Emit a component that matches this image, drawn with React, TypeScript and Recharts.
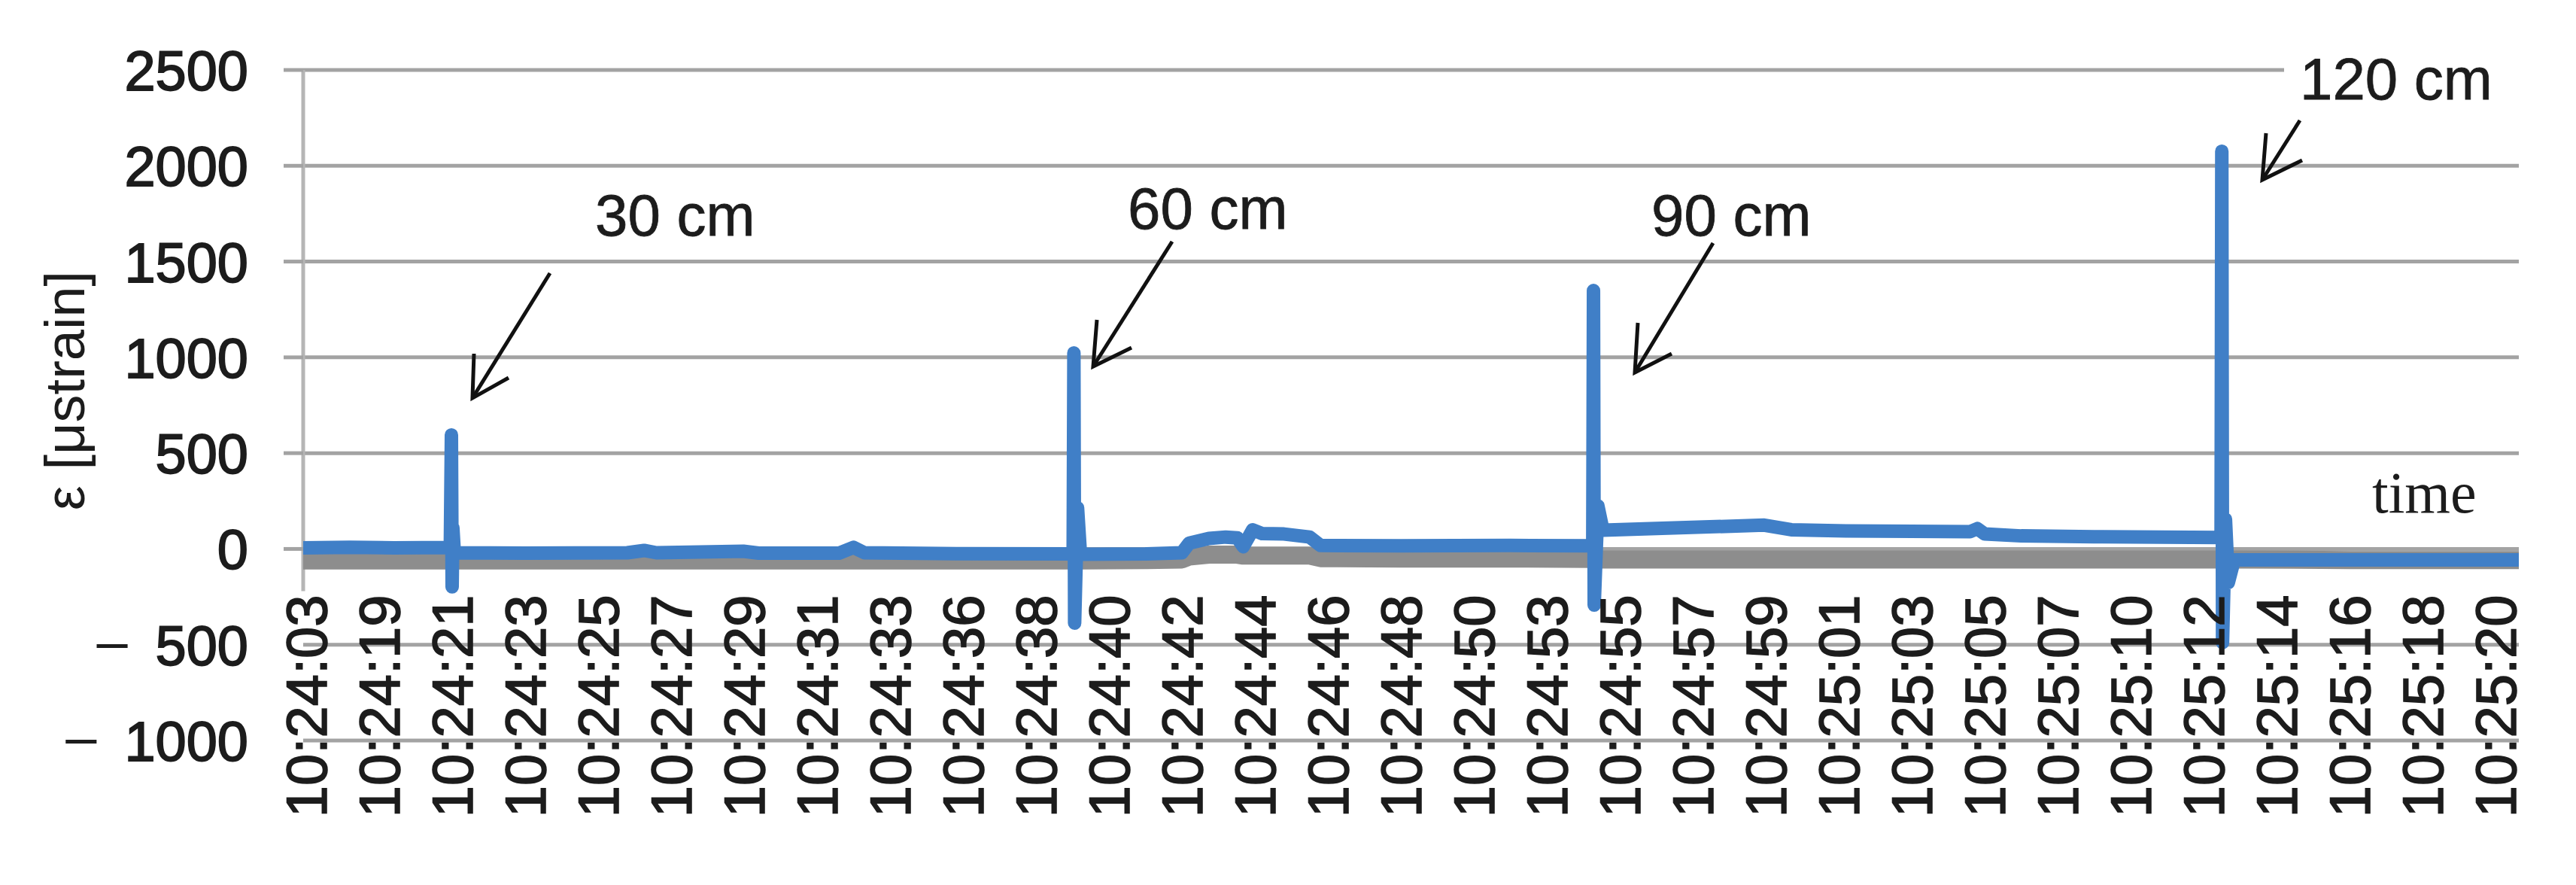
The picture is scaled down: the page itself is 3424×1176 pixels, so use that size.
import React from 'react';
import { LineChart, Line, XAxis, YAxis, CartesianGrid, ReferenceLine } from 'recharts';

// ---- Data ----
const timeLabels = [
  '10:24:03', '10:24:19', '10:24:21', '10:24:23', '10:24:25', '10:24:27', '10:24:29', '10:24:31',
  '10:24:33', '10:24:36', '10:24:38', '10:24:40', '10:24:42', '10:24:44', '10:24:46', '10:24:48',
  '10:24:50', '10:24:53', '10:24:55', '10:24:57', '10:24:59', '10:25:01', '10:25:03', '10:25:05',
  '10:25:07', '10:25:10', '10:25:12', '10:25:14', '10:25:16', '10:25:18', '10:25:20',
];

const yTicks = [-1000, -500, 0, 500, 1000, 1500, 2000, 2500];

// sample position, in units of the labelled time ticks (0 = 10:24:03 ... 30 = 10:25:20)
const sampleT = [
  -0.041, 0.6, 1.2, 1.975, 1.99, 2.0, 2.01, 2.03, 3.0, 4.4,
  4.63, 4.8, 5.99, 6.2, 7.3, 7.5, 7.65, 9.0, 10.51, 10.52,
  10.53, 10.57, 10.61, 11.5, 12.0, 12.1, 12.37, 12.6, 12.76, 12.84,
  12.97, 13.1, 13.4, 13.75, 13.9, 15.0, 16.5, 17.63, 17.64, 17.65,
  17.7, 17.77, 18.58, 19.98, 20.35, 21.1, 22.8, 22.9, 23.0, 23.5,
  24.5, 26.24, 26.25, 26.26, 26.3, 26.34, 26.42, 28.0, 30.32,
];

const strainBlue = [
  6, 9, 6, 8, 595, -198, 110, -20, -22, -20,
  -8, -20, -12, -22, -22, 8, -20, -25, -26, 1023,
  -387, 215, -28, -26, -20, 30, 55, 62, 58, 12,
  100, 80, 78, 62, 18, 16, 18, 16, 1349, -293,
  225, 98, 108, 124, 100, 94, 90, 106, 78, 68,
  64, 60, 2076, -489, 155, -175, -57, -57, -57,
];

const strainGray = [
  -60, -60, -60, -60, -60, -60, -60, -60, -60, -60,
  -60, -60, -60, -60, -60, -60, -60, -60, -60, -60,
  -60, -60, -60, -58, -55, -40, -30, -30, -30, -35,
  -35, -35, -35, -35, -48, -50, -50, -52, -55, -55,
  -55, -55, -55, -55, -55, -55, -55, -55, -55, -55,
  -55, -55, -55, -55, -55, -55, -55, -58, -58,
];

const chartData = sampleT.map((t, i) => ({ t, blue: strainBlue[i], gray: strainGray[i] }));

// ---- Layout ----
const W = 3424;
const H = 1176;
const PLOT_LEFT = 403;
const PLOT_RIGHT = 3348;
const PLOT_TOP = 93;
const PLOT_BOTTOM = 984;
const Y_MIN = -1000;
const Y_MAX = 2500;
const X_MIN = -0.041;
const X_MAX = 30.32;
const ZERO_Y = PLOT_TOP + ((Y_MAX - 0) / (Y_MAX - Y_MIN)) * (PLOT_BOTTOM - PLOT_TOP);
const AXIS_LINE_BOTTOM = -220;

const FONT = "'Liberation Sans', Arial, sans-serif";
const TEXT = '#1c1c1c';
const GRID = '#a3a3a3';

const XTick = (props: any) => {
  const { x, payload } = props;
  const label = timeLabels[payload.value] ?? '';
  return (
    <text
      x={0}
      y={0}
      transform={`translate(${x},${ZERO_Y + 61}) rotate(-90)`}
      textAnchor="end"
      dy={27}
      fontFamily={FONT}
      fontSize={76}
      fill={TEXT}
      stroke={TEXT}
      strokeWidth={1.6}
    >
      {label}
    </text>
  );
};

const YTick = (props: any) => {
  const { y, payload } = props;
  const v = payload.value as number;
  const tx = PLOT_LEFT - 73;
  return (
    <g>
      {v >= 0 && (
        <line x1={PLOT_LEFT - 26} x2={PLOT_LEFT} y1={y} y2={y} stroke={GRID} strokeWidth={5} />
      )}
      {v >= 0 ? (
        <text x={tx} y={y} dy={27} textAnchor="end" fontFamily={FONT} fontSize={74} fill={TEXT} stroke={TEXT} strokeWidth={1.8}>
          {String(v)}
        </text>
      ) : (
        <text x={tx} y={y} textAnchor="end" fontFamily={FONT} fontSize={74} fill={TEXT} stroke={TEXT} strokeWidth={1.8}>
          <tspan dy={20} strokeWidth={0}>–</tspan>
          <tspan dx={37} dy={7}>{String(Math.abs(v))}</tspan>
        </text>
      )}
    </g>
  );
};

const arrows = [
  { s: [731, 363], t: [628, 529], a: [630, 470], b: [676, 502] },
  { s: [1558, 321], t: [1453, 487], a: [1458, 425], b: [1504, 462] },
  { s: [2277, 323], t: [2173, 495], a: [2177, 429], b: [2222, 470] },
  { s: [3057, 160], t: [3007, 239], a: [3012, 177], b: [3060, 213] },
];

const notes = [
  { text: '30 cm', x: 791, y: 313 },
  { text: '60 cm', x: 1499, y: 304 },
  { text: '90 cm', x: 2195, y: 313 },
  { text: '120 cm', x: 3057, y: 132 },
];

export default function App() {
  return (
    <div style={{ position: 'absolute', left: 0, top: 0, width: W, height: H, background: '#fff' }}>
      <LineChart
        width={W}
        height={H}
        data={chartData}
        margin={{ top: PLOT_TOP, right: W - PLOT_RIGHT, bottom: 0, left: 0 }}
      >
        <CartesianGrid vertical={false} stroke={GRID} strokeWidth={5} />
        <XAxis
          type="number"
          dataKey="t"
          domain={[X_MIN, X_MAX]}
          ticks={timeLabels.map((_, i) => i)}
          interval={0}
          allowDataOverflow
          axisLine={false}
          tickLine={false}
          height={H - PLOT_BOTTOM}
          tick={<XTick />}
        />
        <YAxis
          type="number"
          domain={[Y_MIN, Y_MAX]}
          ticks={yTicks}
          interval={0}
          allowDataOverflow
          axisLine={false}
          tickLine={false}
          width={PLOT_LEFT}
          tick={<YTick />}
        />
        <ReferenceLine
          segment={[
            { x: X_MIN, y: Y_MAX },
            { x: X_MIN, y: AXIS_LINE_BOTTOM },
          ]}
          stroke="#b5b5b5"
          strokeWidth={5}
          ifOverflow="visible"
        />
        <Line
          type="linear"
          dataKey="gray"
          stroke="#8d8d8d"
          strokeWidth={24}
          dot={false}
          activeDot={false}
          isAnimationActive={false}
          strokeLinejoin="round"
        />
        <Line
          type="linear"
          dataKey="blue"
          stroke="#407fc7"
          strokeWidth={18}
          dot={false}
          activeDot={false}
          isAnimationActive={false}
          strokeLinejoin="round"
          strokeLinecap="round"
        />
      </LineChart>
      <svg
        width={W}
        height={H}
        style={{ position: 'absolute', left: 0, top: 0, pointerEvents: 'none' }}
      >
        <text
          transform={`translate(112,519) rotate(-90)`}
          textAnchor="middle"
          fontFamily={FONT}
          fontSize={74}
          fill={TEXT}
        >
          ε [μstrain]
        </text>
        <rect x={3036} y={62} width={330} height={80} fill="#fff" />
        {notes.map((n) => (
          <text key={n.text} x={n.x} y={n.y} fontFamily={FONT} fontSize={78} fill={TEXT} stroke={TEXT} strokeWidth={0.8}>
            {n.text}
          </text>
        ))}
        {arrows.map((ar, i) => (
          <g key={i} stroke="#111" strokeWidth={5} fill="none">
            <line x1={ar.s[0]} y1={ar.s[1]} x2={ar.t[0]} y2={ar.t[1]} />
            <polyline
              points={`${ar.a[0]},${ar.a[1]} ${ar.t[0]},${ar.t[1]} ${ar.b[0]},${ar.b[1]}`}
              strokeLinejoin="miter"
              strokeMiterlimit={10}
            />
          </g>
        ))}
        <text x={3153} y={681} fontFamily="'Liberation Serif', 'Times New Roman', serif" fontSize={78} fill={TEXT}>
          time
        </text>
      </svg>
    </div>
  );
}
